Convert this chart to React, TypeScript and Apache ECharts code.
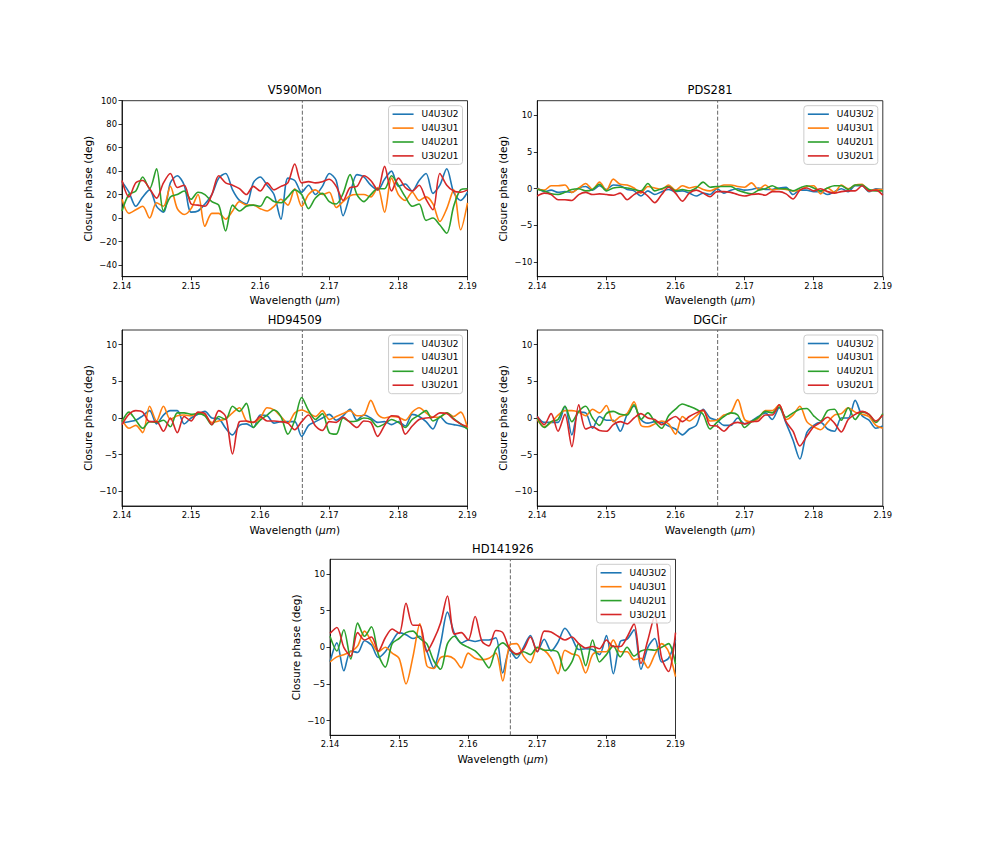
import React, { useEffect, useRef } from "react";
import * as echarts from "echarts";

// ---------- data ----------
const WAVELENGTHS: number[] = Array.from({ length: 51 }, (_, i) => Number((2.14 + i * 0.001).toFixed(3)));
const X_TICKS = [2.14, 2.15, 2.16, 2.17, 2.18, 2.19];
const Y_TICKS_WIDE = [-40, -20, 0, 20, 40, 60, 80, 100];
const Y_TICKS_NARROW = [-10, -5, 0, 5, 10];
const BR_GAMMA = 2.1661;
const BASELINES = ["U4U3U2", "U4U3U1", "U4U2U1", "U3U2U1"];
const TARGETS = ["V590Mon", "PDS281", "HD94509", "DGCir", "HD141926"];

// V590Mon
const v590_U4U3U2 = [31, 22, 10, 18, 24, 10, 5, 30, 36, 28, 5, 6, 12, 20, 34, 38, 24, 15, 12, 30, 35, 28, 20, -1, 34, 32,
  22, 28, 20, 27, 38, 32, 2, 20, 37, 35, 28, 24, 33, 40, 27, 29, 23, 32, 38, 21, 28, 42, 22, 15, 22];
const v590_U4U3U1 = [16, 4, 7, 10, 0, 13, 10, 27, 8, 3, 8, 20, -7, 4, 4, -1, 6, 14, 11, 11, 8, 6, 10, 16, 11, 25,
  10, 20, 24, 20, 22, 9, 14, 19, 20, 20, 18, 26, 5, 34, 20, 15, 22, 15, 18, 12, -3, 8, 24, -10, 13];
const v590_U4U2U1 = [6, 20, 23, 35, 25, 42, 6, 18, 20, 23, 16, 22, 20, 14, 11, -11, 11, 6, 10, 11, 10, 18, 14, 13, 18, 24,
  20, 8, 17, 21, 14, 12, 21, 37, 20, 14, 20, 25, 25, 36, 28, 18, 10, 12, -2, 0, -6, -13, 10, 24, 25];
const v590_U3U2U1 = [32, 18, 30, 32, 25, 17, 30, 38, 26, 28, 12, 11, 10, 20, 36, 30, 28, 25, 20, 27, 23, 30, 24, 27, 30, 46,
  30, 31, 30, 31, 33, 27, 15, 26, 27, 36, 32, 24, 44, 23, 34, 26, 23, 28, 16, 7, 38, 28, 23, 22, 24];

// PDS281
const pds_U4U3U2 = [0.1, -0.4, -0.2, -0.5, -0.4, -0.5, 0.1, 0.3, -0.2, 0.4, -0.1, 0.5, 0.4, -0.1, -0.3, -1.0, -0.3, -0.8, -0.4, -0.1, -0.4, -0.3, -0.6, -1.0, -0.6, -0.8,
  0, -0.6, -0.2, 0, -0.2, -0.1, 0.1, -0.1, -0.1, 0.1, 0.2, -0.8, -0.2, -0.2, -0.4, -0.4, -0.8, -0.4, 0, -0.4, 0.4, 0.4, -0.4, 0, -0.1];
const pds_U4U3U1 = [0, -0.2, 0.4, 0.4, 0.5, -0.5, 0.1, 0.7, -0.1, 0.9, -0.2, 1.3, 0.6, 0.5, 0.1, -0.6, 0.3, 0.1, -0.1, 0.5, -0.2, 0.4, 0.1, 0.3, -0.1, -0.3,
  0.1, 0.5, 0.5, 0.3, 0.2, 0.8, -0.1, 0.5, -0.2, 0, -0.1, -0.3, -0.2, 0.3, 0.4, -0.7, 0.1, -0.5, 0.5, 0, 0.5, 0.6, -0.3, -0.1, -0.1];
const pds_U4U2U1 = [-0.1, -0.3, -0.7, -0.8, -0.5, -0.1, 0, -0.3, -0.1, 0.6, -0.3, 0.1, 0.2, 0.1, -0.1, -0.3, 0.7, -0.3, 0, 0.3, -0.3, -0.1, -0.3, 0.1, 0.9, 0.2,
  0.3, 0.3, 0.3, -0.2, -0.5, -0.7, -0.2, 0, 0.4, 0, 0, -0.3, 0.1, 0.4, 0.1, -0.3, 0.1, 0.4, 0.4, -0.1, 0.5, 0.5, -0.1, -0.3, -0.3];
const pds_U3U2U1 = [-1.0, -0.6, -0.8, -1.5, -1.5, -1.6, -0.8, -0.5, -0.8, -0.7, -0.8, -0.9, -0.6, -1.5, -0.8, -0.4, -1.0, -1.9, -0.8, 0.2, -0.6, -1.7, -0.6, -0.2, -0.6, -1.1,
  -0.4, -0.4, -0.5, -0.8, -1.0, -0.8, -0.7, -0.9, -0.4, -0.4, -0.7, -1.4, -0.2, 0.1, -0.3, 0, -0.4, -0.6, -0.4, -0.3, -0.3, 0.4, -0.3, -0.2, -0.9];

// HD94509
const hd94_U4U3U2 = [-0.7, -0.5, -0.3, 0.3, 1.0, -0.8, 0.4, 1.0, 1.0, -0.8, 0, 0.5, 0.9, 0, -0.1, -1.4, -2.3, -1.0, -0.8, -1.3, 0.4, 0.3, -0.7, -0.5, -0.5, -0.5,
  -2.5, -1.0, -0.5, 0, 0.5, -0.3, 0.3, 1.2, -0.3, 0.4, 0, -0.6, -0.5, -0.9, -0.5, -1.1, 0.5, 0.2, -0.5, -1.5, 0.2, -0.7, -0.9, -1.1, -1.4];
const hd94_U4U3U1 = [-0.2, -1.4, -1.0, -2.0, 1.6, -0.4, 1.6, -0.2, 0.3, 0.4, 0.3, 0.7, 0.4, -0.6, -0.4, -0.1, 0.7, 1.4, -0.4, -0.6, 0, 1.4, 1.1, 0.2, -0.7, 0.7,
  1.1, 0.7, 0.2, 1.0, -0.2, 0.2, 0.6, 1.0, 0.3, 0.4, 2.4, 0.5, 0, 0.2, 0.1, -0.3, 0.8, 1.4, 0.7, 0.1, 0.1, 0.7, 0.2, 0.8, -1.4];
const hd94_U4U2U1 = [-0.5, 0.8, -0.3, -1.4, -0.5, -0.6, -0.3, -1.2, 0.7, 0.7, 0.5, 0.6, 0.3, -0.9, 0.2, -0.2, 1.6, 0.9, 2.0, -1.3, -0.3, 0.4, 1.1, 0.2, -2.2, -0.3,
  2.8, 1.0, -0.2, 0.6, -2.0, -2.2, 0, -0.5, -0.4, 0, -0.2, -1.2, -0.8, -0.2, -0.6, -1.3, -0.2, 0.4, 1.0, -0.4, 0.1, 0.7, -0.1, -0.8, -1.5];
const hd94_U3U2U1 = [-0.9, 0.5, 1.0, 0.8, -0.5, -0.5, -1.8, 0, -2.0, 0.2, -0.4, 0.8, 0.6, -0.9, 1.0, 0.2, -4.9, -0.5, -0.4, -0.6, 0.2, -0.4, -0.4, -0.5, -0.7, -1.6,
  -0.5, 0.4, -1.1, -1.7, -0.5, -0.6, 0.1, -0.6, -1.3, -0.4, -0.6, -2.5, -1.0, 0.3, 0.2, -2.2, -1.1, -0.2, 0, 0.1, 0.7, 0.6, -0.2, -0.8, -1.2];

// DGCir
const dgc_U4U3U2 = [0.2, -0.6, -0.6, -0.6, 1.6, -2.3, 0.8, 0.7, -1.4, 0.2, -0.3, -0.3, -1.8, 0.5, 1.6, -0.2, -0.7, -0.5, -0.6, -1.1, -1.5, -2.3, -1.5, -1.0, 1.2, 0,
  -0.3, -1.0, -1.0, 0, -0.8, -0.4, 0.2, 0.7, -0.2, 1.4, -0.7, -3.0, -5.6, -2.0, -1.0, -0.6, -1.5, -1.8, 0, 0, 2.4, 0.3, -0.3, -1.4, -1.1];
const dgc_U4U3U1 = [-0.2, -1.2, -0.6, 0.4, 1.0, 1.0, 0.8, 0.3, 1.2, 0.7, 1.7, -0.5, 0.2, 0.6, 2.2, -1.0, -1.2, -0.8, -0.4, -0.8, -2.2, 0.2, -0.4, 0.3, 1.0, -0.4,
  -0.3, 0.4, 0.7, 2.5, -0.2, -0.5, -0.1, 1.0, 1.0, 1.8, -0.2, 0.4, 1.6, -0.5, -1.2, -1.6, -0.6, 0.4, 0.6, 1.4, 0.8, 0.5, 0.2, -1.0, -1.4];
const dgc_U4U2U1 = [0, -1.3, -0.5, -0.2, 1.6, -0.5, 0.9, 1.6, 0, -1.0, 0.6, 0.9, 0.5, 0.4, 1.8, -0.2, 0.7, -0.5, -1.4, 0.3, 1.2, 1.9, 1.6, 1.2, 0.5, -1.5,
  -0.6, 0.2, 0.7, 0.4, -1.3, -0.5, 0.1, 0.9, 0.7, 1.5, 0.1, 0.7, 1.2, 1.3, 0.3, -0.4, 1.0, 1.2, -0.3, 1.4, -0.2, 0.8, 0.5, -0.6, 0.6];
const dgc_U3U2U1 = [0.2, -0.9, 0.6, -1.8, 0.5, -3.9, 1.8, -1.5, -1.2, -1.7, -1.8, -0.9, -0.5, -0.8, 0, 0.6, 0, -0.2, -0.9, -0.3, 0.2, -0.5, 0.2, 0.7, 1.1, -1.0,
  -1.1, -1.8, -0.9, -0.6, -0.8, -0.5, -0.4, 0.4, 0.4, 1.8, -0.5, -1.8, -3.8, -2.5, -1.2, -0.6, 0.1, -0.7, -1.9, -0.2, 0.5, 0.9, 0.5, -0.4, 0.4];

// HD141926
const hd141_U4U3U2 = [-2.0, 0.6, -3.2, -0.5, -0.7, 0.9, 0.3, -1.4, -0.6, 0.8, 2.0, 1.7, 1.2, 1.5, -0.5, -2.8, 0.5, 4.8, 1.9, 0.6, 1.0, 0.8, 1.0, 1.0, 1.3, -3.5,
  -0.4, -1.5, 0, 1.6, -0.6, 1.1, -0.5, 0.7, 2.6, 1.3, -0.3, -0.2, -0.3, -1.0, 1.6, -3.6, 0.8, 1.1, 2.4, -3.0, 0, 1.2, -2.0, -1.5, 1.0];
const hd141_U4U3U1 = [-2.0, -1.3, -1.0, -0.6, 0.2, 2.2, 0.8, -0.6, 0, -0.8, -1.5, -5.0, -1.3, 3.2, -2.5, -2.9, -1.4, -1.2, -1.6, -2.8, -0.8, -1.5, -1.7, -1.5, -0.8, -4.6,
  0.3, 0.5, -1.2, -2.1, -0.1, -0.4, -1.5, -3.6, -0.4, -0.9, -1.2, -3.5, -1.0, -0.6, -0.6, 1.0, -0.6, -0.6, -1.7, -1.5, -2.8, -1.0, 0.5, -0.6, -4.0];
const hd141_U4U2U1 = [1.5, -0.5, 2.4, -1.6, 3.3, 1.5, 2.8, -1.0, -2.7, 0.5, 1.2, 2.0, 2.2, 1.2, 0.5, -1.8, -3.0, 0.5, 1.5, 0.5, 0, -0.5, -1.5, -2.8, -0.3, 0.6,
  -0.2, -1.0, -0.6, -1.0, 0, -0.4, -0.4, -0.7, -3.2, -2.0, 0.5, -2.5, 1.0, -2.0, -1.0, 0.2, -1.3, 0, -1.2, -0.5, -0.3, -0.4, 0, 0.5, -2.3];
const hd141_U3U2U1 = [1.9, 2.7, 0, -1.2, 2.0, 1.0, 1.4, -0.5, 1.3, 2.5, 1.9, 6.0, 3.0, 3.0, -0.6, 1.0, 3.3, 7.0, 1.8, 2.0, 1.0, 4.2, 0.8, 0.2, 2.3, 2.0,
  -0.2, -0.9, -0.3, 1.4, -0.6, 2.2, 2.1, 1.5, 1.0, 1.4, 0.5, -0.1, 0.1, -0.2, 1.0, 0.1, 0.1, 1.4, 3.2, -2.2, 1.0, 4.2, -1.5, -3.3, 2.0];

const PANEL_SERIES: number[][][] = [
  [v590_U4U3U2, v590_U4U3U1, v590_U4U2U1, v590_U3U2U1],
  [pds_U4U3U2, pds_U4U3U1, pds_U4U2U1, pds_U3U2U1],
  [hd94_U4U3U2, hd94_U4U3U1, hd94_U4U2U1, hd94_U3U2U1],
  [dgc_U4U3U2, dgc_U4U3U1, dgc_U4U2U1, dgc_U3U2U1],
  [hd141_U4U3U2, hd141_U4U3U1, hd141_U4U2U1, hd141_U3U2U1],
];

// ---------- layout & style ----------
const CHART_W = 981;
const CHART_H = 841;
const PLOT_W = 345.5;
const PLOT_H = 176;
const FONT = "DejaVu Sans";
const COLORS = ["#1f77b4", "#ff7f0e", "#2ca02c", "#d62728"];
const PANELS = [
  { left: 122, top: 100.7, ymin: -50, ymax: 100, yticks: Y_TICKS_WIDE },
  { left: 537.3, top: 100.7, ymin: -12, ymax: 12, yticks: Y_TICKS_NARROW },
  { left: 122, top: 330, ymin: -12, ymax: 12, yticks: Y_TICKS_NARROW },
  { left: 537.3, top: 330, ymin: -12, ymax: 12, yticks: Y_TICKS_NARROW },
  { left: 330, top: 559.3, ymin: -12, ymax: 12, yticks: Y_TICKS_NARROW },
];

const fmtY = (v: number) => (v < 0 ? "\u2212" + Math.abs(v) : String(v));

function buildOption() {
  const grid = PANELS.map((p) => ({
    left: p.left,
    top: p.top,
    width: PLOT_W,
    height: PLOT_H,
    show: true,
    borderColor: "#000",
    borderWidth: 0.8,
    backgroundColor: "rgba(0,0,0,0)",
  }));

  const xAxis = PANELS.map((p, i) => ({
    type: "value",
    gridIndex: i,
    min: 2.14,
    max: 2.19,
    axisLine: { show: true, onZero: false, lineStyle: { color: "#000", width: 0.8 } },
    axisTick: { show: true, length: 3.5, customValues: X_TICKS, lineStyle: { color: "#000", width: 0.8 } },
    axisLabel: {
      customValues: X_TICKS,
      formatter: (v: number) => v.toFixed(2),
      fontFamily: FONT,
      fontSize: 8.4,
      color: "#000",
      margin: 5,
    },
    splitLine: { show: false },
    name: "Wavelength ({i|\u03bcm})",
    nameLocation: "middle",
    nameGap: 18,
    nameTextStyle: {
      fontFamily: FONT,
      fontSize: 10.5,
      color: "#000",
      rich: { i: { fontFamily: FONT, fontSize: 10.5, fontStyle: "italic", color: "#000" } },
    },
  }));

  const yAxis = PANELS.map((p, i) => ({
    type: "value",
    gridIndex: i,
    min: p.ymin,
    max: p.ymax,
    axisLine: { show: true, onZero: false, lineStyle: { color: "#000", width: 0.8 } },
    axisTick: { show: true, length: 3.5, customValues: p.yticks, lineStyle: { color: "#000", width: 0.8 } },
    axisLabel: {
      customValues: p.yticks,
      formatter: fmtY,
      fontFamily: FONT,
      fontSize: 8.4,
      color: "#000",
      margin: 5,
    },
    splitLine: { show: false },
    name: "Closure phase (deg)",
    nameLocation: "middle",
    nameGap: 29,
    nameTextStyle: { fontFamily: FONT, fontSize: 10.5, color: "#000" },
  }));

  const title = PANELS.map((p, i) => ({
    text: TARGETS[i],
    left: p.left + PLOT_W / 2,
    top: p.top - 16.5,
    textAlign: "center",
    padding: 0,
    textStyle: { fontFamily: FONT, fontSize: 11.5, fontWeight: "normal", color: "#000" },
  }));

  const legend = PANELS.map((p) => ({
    data: BASELINES,
    orient: "vertical",
    right: CHART_W - (p.left + PLOT_W - 5),
    top: p.top + 5,
    icon: "rect",
    itemWidth: 21,
    itemHeight: 1.6,
    itemGap: 2.9,
    padding: [3, 4, 3, 4],
    backgroundColor: "rgba(255,255,255,0.8)",
    borderColor: "#cccccc",
    borderWidth: 1,
    borderRadius: 3,
    selectedMode: false,
    z: 10,
    textStyle: { fontFamily: FONT, fontSize: 9, lineHeight: 11, color: "#000", padding: [0, 0, 0, 3] },
  }));

  const series: any[] = [];
  PANELS.forEach((p, i) => {
    PANEL_SERIES[i].forEach((vals, j) => {
      series.push({
        type: "line",
        name: BASELINES[j],
        xAxisIndex: i,
        yAxisIndex: i,
        data: WAVELENGTHS.map((x, k) => [x, vals[k]]),
        symbol: "none",
        smooth: 0.3,
        clip: true,
        lineStyle: { color: COLORS[j], width: 1.6 },
        itemStyle: { color: COLORS[j] },
        emphasis: { disabled: true },
      });
    });
    // Br-gamma reference line
    series.push({
      type: "line",
      name: "Brγ",
      xAxisIndex: i,
      yAxisIndex: i,
      data: [
        [BR_GAMMA, p.ymin],
        [BR_GAMMA, p.ymax],
      ],
      symbol: "none",
      silent: true,
      z: 1,
      lineStyle: { color: "#666", width: 1, type: [4, 2] },
      itemStyle: { color: "#666" },
      emphasis: { disabled: true },
    });
  });

  return {
    animation: false,
    backgroundColor: "#fff",
    color: COLORS,
    textStyle: { fontFamily: FONT },
    title,
    legend,
    grid,
    xAxis,
    yAxis,
    series,
  };
}

export default function App() {
  const ref = useRef<HTMLDivElement>(null);
  useEffect(() => {
    document.body.style.margin = "0";
    const chart = echarts.init(ref.current!, null, { renderer: "svg" });
    chart.setOption(buildOption() as any);
    return () => chart.dispose();
  }, []);
  return <div ref={ref} style={{ width: CHART_W, height: CHART_H }} />;
}
